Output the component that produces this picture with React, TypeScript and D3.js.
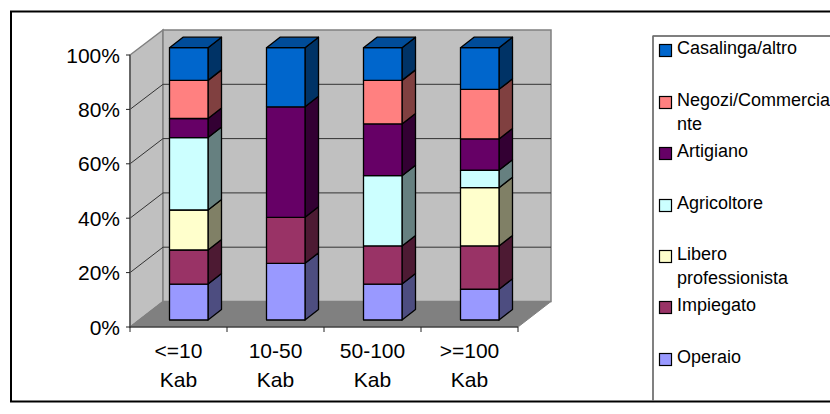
import React from "react";
import * as d3 from "d3";

const categories = [["<=10", "Kab"], ["10-50", "Kab"], ["50-100", "Kab"], [">=100", "Kab"]];
const seriesNames = ["Operaio", "Impiegato", "Libero professionista", "Agricoltore", "Artigiano", "Negozi/Commerciante", "Casalinga/altro"];
const operaio = [13.2, 20.8, 13.2, 11.3];
const impiegato = [12.5, 16.9, 14.0, 15.9];
const libero = [14.7, 0, 0, 21.4];
const agricoltore = [26.6, 0, 25.8, 6.4];
const artigiano = [7.0, 40.6, 19.0, 11.5];
const negozi = [14.0, 0, 16.0, 18.2];
const casalinga = [12.0, 21.7, 12.0, 15.3];
const seriesValues = [operaio, impiegato, libero, agricoltore, artigiano, negozi, casalinga];
const frontColors = ["#9999FF", "#993366", "#FFFFCC", "#CCFFFF", "#660066", "#FF8080", "#0066CC"];
const sideColors = ["#4D4D80", "#4D1A33", "#808066", "#668080", "#330033", "#804040", "#003366"];
const topColor = "#004C99";
const axisTicks = [0, 20, 40, 60, 80, 100];
const legendRows = [
  { lines: ["Casalinga/altro"], series: 6, y: 44 },
  { lines: ["Negozi/Commercia", "nte"], series: 5, y: 96 },
  { lines: ["Artigiano"], series: 4, y: 147 },
  { lines: ["Agricoltore"], series: 3, y: 199 },
  { lines: ["Libero", "professionista"], series: 2, y: 250 },
  { lines: ["Impiegato"], series: 1, y: 301 },
  { lines: ["Operaio"], series: 0, y: 353 },
];

const FONT = "'Liberation Sans', Arial, sans-serif";
const DX = 33;
const BDX = 13.5;
const BDY = 10.5;

export default function App() {
  const frontAxis = d3.scaleLinear().domain([0, 100]).range([327, 55]);
  const backAxis = d3.scaleLinear().domain([0, 100]).range([301.5, 30]);
  const barY = d3.scaleLinear().domain([0, 100]).range([320, 47.7]);
  const catX = d3.scaleBand<number>().domain([0, 1, 2, 3]).range([130, 518]);
  const barX = (i: number) => (catX(i) as number) + 39.5;
  const barW = 38.5;
  const stack = d3.stack<number[], number>()
    .keys(d3.range(seriesValues.length))
    .value((_, k) => seriesValues[k][_[0]]);
  const layers = stack(categories.map((_, i) => [i]));
  const left = 130;
  const right = 518;
  return (
    <svg width={830} height={414} style={{ position: "absolute", left: 0, top: 0, fontFamily: FONT }}>
      <rect x={0} y={0} width={830} height={414} fill="#fff" />
      <rect x={11} y={11.5} width={840} height={390} fill="#fff" stroke="#000" strokeWidth={2} />
      <polygon points={`${left},327 ${left + DX},301.5 ${left + DX},30 ${left},55`} fill="#C0C0C0" stroke="#808080" strokeWidth={1.5} />
      <polygon points={`${left + DX},301.5 ${right + DX},301.5 ${right + DX},30 ${left + DX},30`} fill="#C0C0C0" stroke="#808080" strokeWidth={1.5} />
      <polygon points={`${left},327 ${right},327 ${right + DX},301.5 ${left + DX},301.5`} fill="#808080" stroke="#808080" />
      {axisTicks.slice(1, 5).map((t) => (
        <g key={t} stroke="#333" strokeWidth={1}>
          <line x1={left} y1={frontAxis(t)} x2={left + DX} y2={backAxis(t)} />
          <line x1={left + DX} y1={backAxis(t)} x2={right + DX} y2={backAxis(t)} />
        </g>
      ))}
      <line x1={left} y1={55} x2={left} y2={327} stroke="#555" strokeWidth={1.5} />
      <line x1={left} y1={327} x2={right} y2={327} stroke="#222" strokeWidth={1} />
      {axisTicks.map((t) => (
        <g key={t}>
          <line x1={left - 4} x2={left} y1={frontAxis(t)} y2={frontAxis(t)} stroke="#222" />
          <text x={120} y={frontAxis(t) + 7.5} textAnchor="end" fontSize={21} fill="#000">{t}%</text>
        </g>
      ))}
      {d3.range(5).map((i) => {
        const x = left + (i * (right - left)) / 4;
        return <line key={i} x1={x} x2={x} y1={327} y2={332} stroke="#222" />;
      })}
      {categories.map((c, i) => (
        <g key={i}>
          {c.map((s, j) => (
            <text key={j} x={barX(i) + 9} y={358 + j * 29} textAnchor="middle" fontSize={21} fill="#000">{s}</text>
          ))}
        </g>
      ))}
      {categories.map((_, i) =>
        layers.map((layer, k) => {
          const [v0, v1] = layer[i];
          if (v1 - v0 <= 0) return null;
          const x = barX(i);
          const y0 = barY(v0);
          const y1 = barY(v1);
          return (
            <g key={`${i}-${k}`} stroke="#000" strokeWidth={1.3} strokeLinejoin="round">
              <polygon points={`${x + barW},${y0} ${x + barW + BDX},${y0 - BDY} ${x + barW + BDX},${y1 - BDY} ${x + barW},${y1}`} fill={sideColors[k]} />
              <rect x={x} y={y1} width={barW} height={y0 - y1} fill={frontColors[k]} />
              {v1 >= 99.9 && (
                <polygon points={`${x},${y1} ${x + BDX},${y1 - BDY} ${x + barW + BDX},${y1 - BDY} ${x + barW},${y1}`} fill={topColor} />
              )}
            </g>
          );
        })
      )}
      <rect x={653} y={36} width={190} height={365} fill="#fff" stroke="#000" strokeWidth={1} />
      <line x1={653} x2={653} y1={36} y2={401} stroke="#808080" strokeWidth={1.5} />
      {legendRows.map((r) => (
        <g key={r.series}>
          <rect x={659.5} y={r.y + 0.5} width={12} height={12} fill={frontColors[r.series]} stroke="#000" strokeWidth={1.2} />
          {r.lines.map((l, j) => (
            <text key={j} x={677} y={r.y + 10 + j * 24} fontSize={18} fill="#000">{l}</text>
          ))}
        </g>
      ))}
    </svg>
  );
}
